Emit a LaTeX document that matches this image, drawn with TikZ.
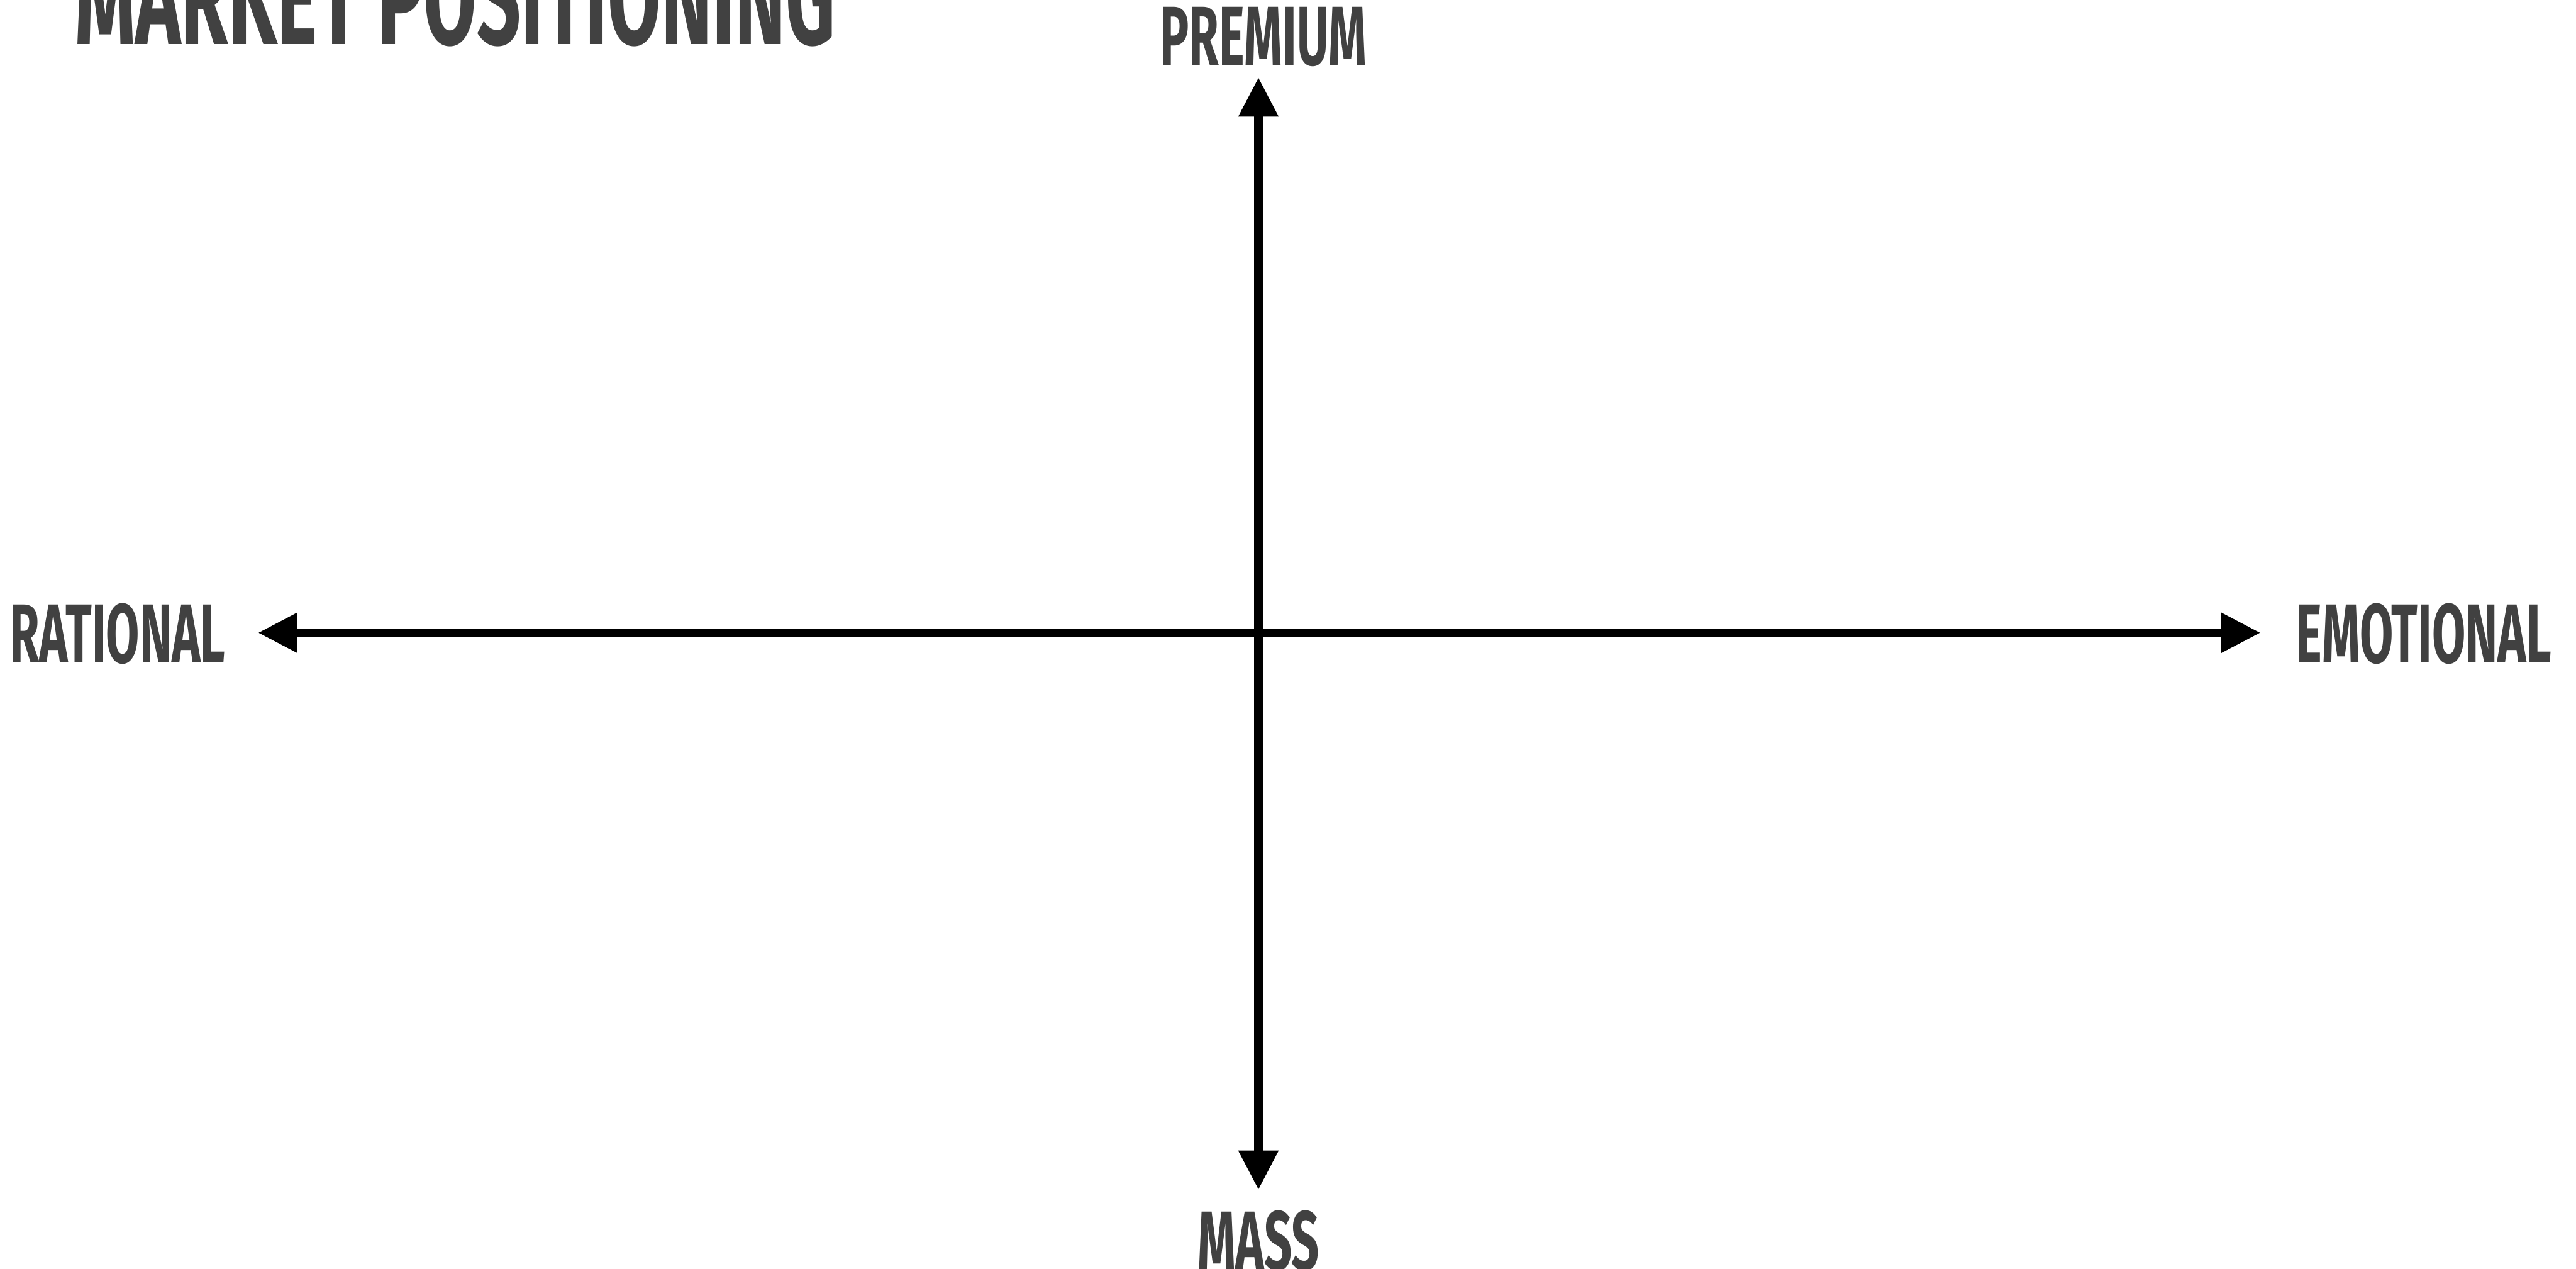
\documentclass[tikz,border=0pt]{standalone}
\usepackage{fontspec}
\usepackage{xcolor}
\usetikzlibrary{arrows.meta}
\newfontfamily\dinfont{Fira Sans}[FakeStretch=0.58]
\definecolor{labelgray}{HTML}{414141}

\begin{document}
\begin{tikzpicture}[x=0.1mm,y=-0.1mm,
    axis/.style={line width=0.55mm, {Triangle[length=2.4mm,width=2.3mm]}-{Triangle[length=2.4mm,width=2.3mm]}},
    axislabel/.style={text=labelgray, font=\dinfont\bfseries\fontsize{14.5}{16}\selectfont, inner sep=0pt}]
            \useasboundingbox (0,0) rectangle (1568,772);
            % Title
            \node[text=labelgray, font=\dinfont\bfseries\fontsize{23}{26}\selectfont, inner sep=0pt, anchor=base west] (title) at (45,27) {MARKET POSITIONING};

            % Axis ends
            \coordinate (centre) at (766,385);
            \coordinate (top) at (766,47);
            \coordinate (bottom) at (766,724);
            \coordinate (left) at (157,385);
            \coordinate (right) at (1376,385);

            % Axes
            \draw[axis] (bottom) -- (top);
            \draw[axis] (left) -- (right);

            % Axis labels
            \node[axislabel] (premium) at (769,22.5) {PREMIUM};
            \node[axislabel] (mass) at (766,755) {MASS};
            \node[axislabel] (rational) at (71.5,385.5) {RATIONAL};
            \node[axislabel] (emotional) at (1475.5,385.5) {EMOTIONAL};
        \end{tikzpicture}
\end{document}
